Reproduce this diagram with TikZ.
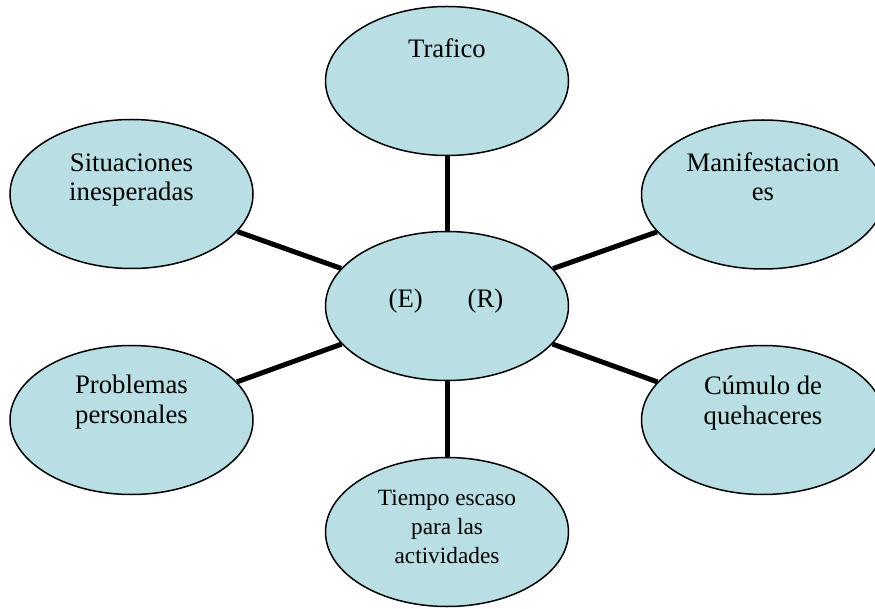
\documentclass[tikz,border=0pt]{standalone}
\usepackage{fontspec}
\setmainfont{Liberation Serif}
\usetikzlibrary{shapes.geometric}
\definecolor{colBUB}{RGB}{185,223,228}

\begin{document}
\begin{tikzpicture}[x=1pt, y=-1pt,
    bubble/.style={ellipse, draw, line width=1.5pt, fill=colBUB,
      minimum width=243pt, minimum height=149pt, inner sep=0pt},
    spoke/.style={line width=5pt},
    lbl/.style={anchor=base, align=center, inner sep=0pt,
      font=\fontsize{26.7}{29.5}\selectfont},
    lblsmall/.style={lbl, font=\fontsize{23.3}{29}\selectfont}]
      \useasboundingbox (0,0) rectangle (875,609);
      % --- ellipses ---
      \node[bubble] (traf) at (447,81) {};
      \node[bubble] (sit) at (131.5,194) {};
      \node[bubble] (man) at (763,194.5) {};
      \node[bubble] (hub) at (447,306) {};
      \node[bubble] (prob) at (131.5,420) {};
      \node[bubble] (cum) at (763,420) {};
      \node[bubble] (tiem) at (447,532) {};
      % --- spokes ---
      \foreach \n in {traf,sit,man,prob,cum,tiem}
        \draw[spoke] (hub) -- (\n);
      % --- texts (base = last line) ---
      \node[lbl] (traf-t) at (447,58) {Trafico};
      \node[lbl] (sit-t) at (131.5,201) {Situaciones\\inesperadas};
      \node[lbl] (man-t) at (763,201) {Manifestacion\\es};
      \node[lbl] (hub-t) at (446,308) {(E)\hspace{45pt}(R)};
      \node[lbl] (prob-t) at (131.5,423) {Problemas\\personales};
      \node[lbl] (cum-t) at (763,424) {Cúmulo de\\quehaceres};
      \node[lblsmall] (tiem-t) at (447,563) {Tiempo escaso\\para las\\actividades};
    \end{tikzpicture}
\end{document}
